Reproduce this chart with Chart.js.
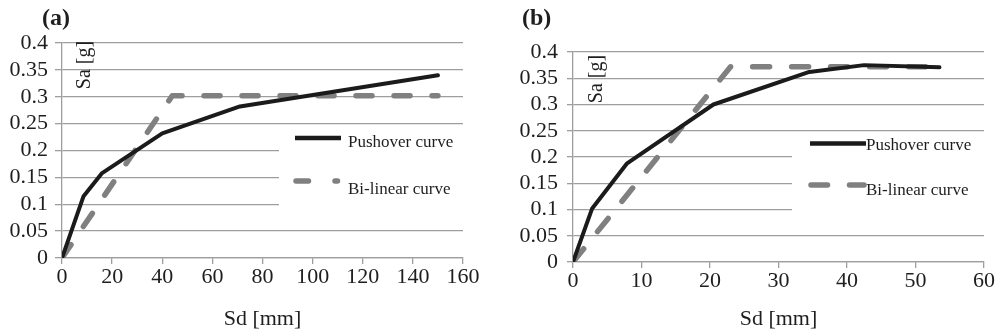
<!DOCTYPE html>
<html>
<head>
<meta charset="utf-8">
<script src="https://cdn.jsdelivr.net/npm/chart.js@4.4.1/dist/chart.umd.min.js"></script>
<style>
  html, body { margin: 0; padding: 0; background: #fff; }
  body { width: 995px; height: 335px; position: relative; overflow: hidden; }
  canvas { position: absolute; top: 0; }
  #chartA { left: 0; }
  #chartB { left: 497px; }
</style>
</head>
<body>
<canvas id="chartA" width="490" height="335"></canvas>
<canvas id="chartB" width="498" height="335"></canvas>
<script>
// Capacity curves, panel (a) and (b)
const SERIF = '"Liberation Serif", "Times New Roman", serif';

// ---- data: panel (a)
const pushoverA_sd = [0, 8.6, 16, 40, 71, 150];
const pushoverA_sa = [0, 0.115, 0.158, 0.232, 0.282, 0.34];
const bilinearA_sd = [0, 44, 150];
const bilinearA_sa = [0, 0.302, 0.302];
const xTicksA = ['0', '20', '40', '60', '80', '100', '120', '140', '160'];

// ---- data: panel (b)
const pushoverB_sd = [0, 2.8, 7.9, 20.5, 34.5, 42.5, 53.5];
const pushoverB_sa = [0, 0.102, 0.188, 0.30, 0.362, 0.375, 0.371];
const bilinearB_sd = [0, 23, 53.5];
const bilinearB_sa = [0, 0.372, 0.372];
const xTicksB = ['0', '10', '20', '30', '40', '50', '60'];

const yTicks = ['0', '0.05', '0.1', '0.15', '0.2', '0.25', '0.3', '0.35', '0.4'];
const seriesNames = ['Pushover curve', 'Bi-linear curve'];

const GRID = '#9e9e9e';
const INK = '#1e1e1e';
const BLACK_LINE = '#1b1b1b';
const GRAY_LINE = '#808080';

const toPoints = (xs, ys) => xs.map((x, i) => ({ x: x, y: ys[i] }));

// draws panel letter, rotated y title and the boxed legend
const decorPlugin = {
    id: 'decor',
    afterDraw(chart, args, o) {
        const ctx = chart.ctx;
        ctx.save();
        // panel letter
        ctx.fillStyle = INK;
        ctx.font = 'bold 24px ' + SERIF;
        ctx.textBaseline = 'middle';
        ctx.textAlign = 'left';
        ctx.fillText(o.letter, o.letterX, 19);

        // y axis title inside plot
        ctx.save();
        ctx.translate(o.yTitleX, o.yTitleY);
        ctx.rotate(-Math.PI / 2);
        ctx.font = '20px ' + SERIF;
        ctx.textAlign = 'center';
        ctx.textBaseline = 'middle';
        ctx.fillText('Sa [g]', 0, 0);
        ctx.restore();

        // legend box
        const b = o.box;
        ctx.fillStyle = '#fff';
        ctx.fillRect(b.x, b.y, b.w, b.h);

        const ds = chart.data.datasets;
        // pushover sample
        ctx.strokeStyle = ds[0].borderColor;
        ctx.lineWidth = 4.5;
        ctx.lineCap = 'butt';
        ctx.setLineDash([]);
        ctx.beginPath();
        ctx.moveTo(o.l1.x0, o.l1.y);
        ctx.lineTo(o.l1.x1, o.l1.y);
        ctx.stroke();
        // bilinear sample
        ctx.strokeStyle = ds[1].borderColor;
        ctx.lineWidth = ds[1].borderWidth;
        ctx.lineCap = 'round';
        ctx.setLineDash(o.l2.dash);
        ctx.beginPath();
        ctx.moveTo(o.l2.x0, o.l2.y);
        ctx.lineTo(o.l2.x1, o.l2.y);
        ctx.stroke();
        ctx.setLineDash([]);

        ctx.fillStyle = INK;
        ctx.font = '17px ' + SERIF;
        ctx.textAlign = 'left';
        ctx.textBaseline = 'alphabetic';
        ctx.fillText(ds[0].label, o.textX, o.t1);
        ctx.fillText(ds[1].label, o.textX, o.t2);
        ctx.restore();
    }
};

function makeChart(id, push, bil, xMax, xStep, xLabels, area, dash, decor) {
    return new Chart(document.getElementById(id), {
        type: 'scatter',
        data: {
            datasets: [
                {
                    label: seriesNames[0],
                    data: push,
                    showLine: true,
                    borderColor: BLACK_LINE,
                    borderWidth: 4,
                    pointRadius: 0,
                    borderJoinStyle: 'round',
                    borderCapStyle: 'round',
                    tension: 0
                },
                {
                    label: seriesNames[1],
                    data: bil,
                    showLine: true,
                    borderColor: GRAY_LINE,
                    borderWidth: 5.5,
                    borderDash: dash,
                    borderCapStyle: 'round',
                    borderJoinStyle: 'round',
                    pointRadius: 0,
                    tension: 0
                }
            ]
        },
        options: {
            responsive: false,
            animation: false,
            devicePixelRatio: 1,
            layout: { padding: { left: 0, right: area.padRight, top: area.top, bottom: 0 } },
            plugins: {
                legend: { display: false },
                tooltip: { enabled: false },
                decor: decor
            },
            scales: {
                x: {
                    type: 'linear',
                    min: 0,
                    max: xMax,
                    afterFit: s => { s.height = area.xHeight; },
                    afterBuildTicks: s => { s.ticks = xLabels.map((_, i) => ({ value: i * xStep })); },
                    ticks: {
                        callback: (v, i) => xLabels[i],
                        color: INK,
                        font: { family: SERIF, size: 22 },
                        padding: 0,
                        maxRotation: 0,
                        autoSkip: false
                    },
                    grid: { drawOnChartArea: false, drawTicks: true, tickLength: 6, color: GRID, lineWidth: 1.3 },
                    border: { display: true, color: GRID, width: 1.3 },
                    title: {
                        display: true,
                        text: 'Sd [mm]',
                        color: INK,
                        font: { family: SERIF, size: 22 },
                        padding: { top: 0, bottom: 3 }
                    }
                },
                y: {
                    type: 'linear',
                    min: 0,
                    max: 0.4,
                    afterFit: s => { s.width = area.left; },
                    afterBuildTicks: s => { s.ticks = yTicks.map((_, i) => ({ value: i * 0.05 })); },
                    ticks: {
                        callback: (v, i) => yTicks[i],
                        color: INK,
                        font: { family: SERIF, size: 22 },
                        padding: area.yPad,
                        autoSkip: false
                    },
                    grid: { color: GRID, lineWidth: 1.3, tickLength: area.yTick },
                    border: { display: true, color: GRID, width: 1.3 }
                }
            }
        },
        plugins: [decorPlugin]
    });
}

makeChart('chartA',
    toPoints(pushoverA_sd, pushoverA_sa),
    toPoints(bilinearA_sd, bilinearA_sa),
    160, 20, xTicksA,
    { left: 62, padRight: 27, top: 43, xHeight: 77, yPad: 7, yTick: 7 },
    [16, 22],
    {
        letter: '(a)', letterX: 42,
        yTitleX: 85, yTitleY: 65,
        box: { x: 279, y: 127, w: 211, h: 88 },
        l1: { x0: 295, x1: 341, y: 138 },
        l2: { x0: 296, x1: 337.5, y: 181, dash: [12.5, 26.5] },
        textX: 348, t1: 147, t2: 194
    });

makeChart('chartB',
    toPoints(pushoverB_sd, pushoverB_sa),
    toPoints(bilinearB_sd, bilinearB_sa),
    60, 10, xTicksB,
    { left: 76, padRight: 11, top: 52, xHeight: 73, yPad: 9, yTick: 6 },
    [17, 22],
    {
        letter: '(b)', letterX: 25,
        yTitleX: 100, yTitleY: 79,
        box: { x: 295, y: 134, w: 203, h: 91 },
        l1: { x0: 313, x1: 369, y: 143.5 },
        l2: { x0: 314, x1: 367, y: 185, dash: [16.5, 22] },
        textX: 369, t1: 150, t2: 195
    });
</script>
</body>
</html>
